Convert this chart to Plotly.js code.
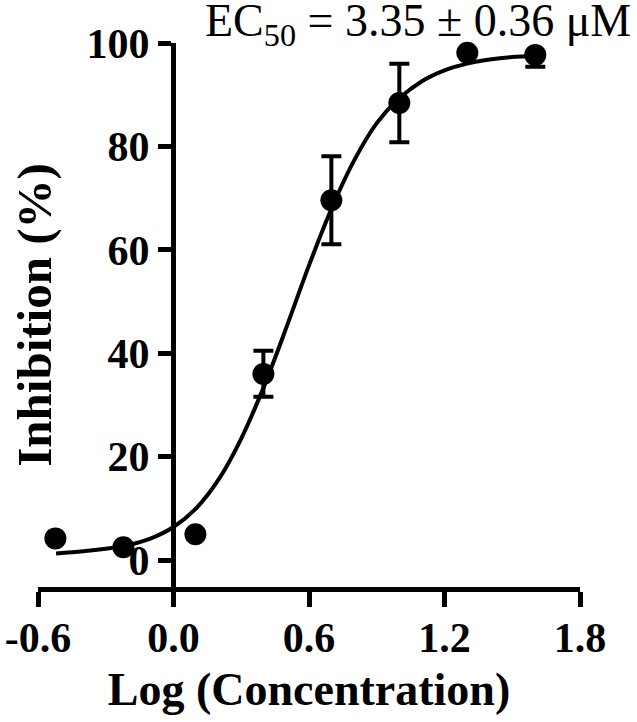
<!DOCTYPE html>
<html>
<head>
<meta charset="utf-8">
<script src="https://cdn.plot.ly/plotly-3.0.1.min.js"></script>
<style>
  html, body { margin: 0; padding: 0; background: #fff; }
  #chart { width: 637px; height: 722px; }
</style>
</head>
<body>
<div id="chart"></div>
<script>
// measured points: log concentration vs inhibition (mean, SD)
const logConc = [-0.523, -0.222, 0.097, 0.398, 0.699, 1.0, 1.301, 1.602];
const inhibition = [4.2, 2.5, 5.0, 36.0, 69.6, 88.4, 98.1, 97.7];
const errUp = [0, 0, 0, 4.5, 8.5, 7.6, 0, 0];
const errDown = [0, 0, 0, 4.4, 8.5, 7.6, 0, 2.3];

// fitted curve
const fitX = [-0.52, -0.4, -0.3, -0.2, -0.1, 0.0, 0.1, 0.2, 0.3, 0.4, 0.5,
              0.6, 0.7, 0.8, 0.9, 1.0, 1.1, 1.2, 1.3, 1.4, 1.5, 1.6];
const fitY = [1.3, 1.7, 2.2, 2.9, 4.2, 6.4, 10.0, 15.6, 23.5, 33.5, 45.0,
              57.0, 68.0, 77.3, 84.5, 89.3, 92.6, 94.7, 96.0, 96.8, 97.3, 97.5];

const xTicks = [-0.6, 0.0, 0.6, 1.2, 1.8];
const xTickText = ['-0.6', '0.0', '0.6', '1.2', '1.8'];
const yTicks = [0, 20, 40, 60, 80, 100];

const SERIF = 'Liberation Serif, Times New Roman, serif';
const INK = '#000';

const traces = [
    {
        x: logConc, y: inhibition,
        mode: 'markers', type: 'scatter',
        marker: { size: 22, color: INK },
        error_y: {
            type: 'data', symmetric: false,
            array: errUp, arrayminus: errDown,
            color: INK, thickness: 4, width: 10,
        },
        cliponaxis: false,
        showlegend: false,
    },
    {
        x: fitX, y: fitY,
        mode: 'lines', type: 'scatter',
        line: { color: INK, width: 4, shape: 'spline' },
        cliponaxis: false,
        showlegend: false,
    },
];

const layout = {
    width: 637, height: 722,
    paper_bgcolor: '#fff', plot_bgcolor: '#fff',
    margin: { l: 38, r: 57, t: 43, b: 135 },
    font: { family: SERIF, color: INK },
    xaxis: {
        range: [-0.6, 1.8],
        tickvals: xTicks, ticktext: xTickText,
        showline: true, linecolor: INK, linewidth: 5,
        ticks: 'outside', ticklen: 15, tickwidth: 5, tickcolor: INK,
        ticklabelstandoff: -5,
        showgrid: false, zeroline: false,
        tickfont: { family: SERIF, size: 42, weight: 'bold' },
        title: { text: '<b>Log (Concentration)</b>', font: { family: SERIF, size: 46 }, standoff: 14 },
    },
    yaxis: {
        range: [-5.2, 100],
        anchor: 'free', position: 0.249,
        tickvals: yTicks,
        showline: true, linecolor: INK, linewidth: 5,
        ticks: 'outside', ticklen: 13, tickwidth: 5, tickcolor: INK,
        showgrid: false, zeroline: false,
        tickfont: { family: SERIF, size: 42, weight: 'bold' },
        title: { text: '<b>Inhibition (%)</b>', font: { family: SERIF, size: 49 }, standoff: 18 },
    },
    annotations: [{
        xref: 'paper', yref: 'paper',
        x: 1.097, y: 1.0, xanchor: 'right', yanchor: 'bottom',
        yshift: -12,
        text: 'EC<sub>50</sub> = 3.35 ± 0.36 μM',
        showarrow: false,
        font: { family: SERIF, size: 46, color: INK },
    }],
};

Plotly.newPlot('chart', traces, layout, { displayModeBar: false, staticPlot: true });
</script>
</body>
</html>
